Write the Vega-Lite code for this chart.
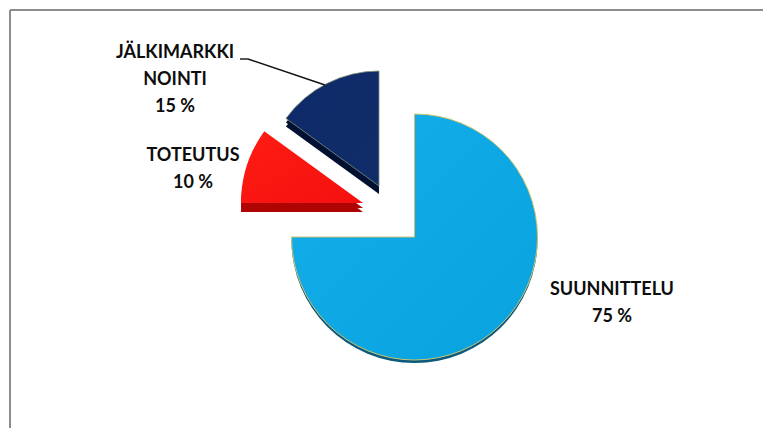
{
  "$schema": "https://vega.github.io/schema/vega-lite/v6.json",
  "width": 753,
  "height": 418,
  "autosize": "none",
  "padding": {"left": 10, "top": 10, "right": 0, "bottom": 0},
  "background": "white",
  "config": {"view": {"stroke": null}},
  "data": {
    "values": [
      {"vaihe": "SUUNNITTELU", "rivit": "SUUNNITTELU\n75 %", "osuus": 75},
      {"vaihe": "TOTEUTUS", "rivit": "TOTEUTUS\n10 %", "osuus": 10},
      {"vaihe": "JÄLKIMARKKINOINTI", "rivit": "JÄLKIMARKKI\nNOINTI\n15 %", "osuus": 15}
    ]
  },
  "transform": [{"stack": "osuus", "groupby": [], "as": ["alku", "loppu"]}],
  "encoding": {
    "theta": {"field": "alku", "type": "quantitative", "scale": {"domain": [0, 100]}},
    "theta2": {"field": "loppu"}
  },
  "layer": [
    {
      "transform": [{"filter": "datum.vaihe === 'SUUNNITTELU'"}],
      "mark": {"type": "arc", "outerRadius": 123, "fill": "#0b5a7c", "xOffset": 28, "yOffset": 21}
    },
    {
      "transform": [{"filter": "datum.vaihe === 'TOTEUTUS'"}],
      "mark": {"type": "arc", "outerRadius": 122, "fill": "#b00404", "xOffset": -23.5, "yOffset": -7}
    },
    {
      "transform": [{"filter": "datum.vaihe === 'TOTEUTUS'"}],
      "mark": {"type": "arc", "outerRadius": 122, "fill": "#b00404", "xOffset": -23.5, "yOffset": -11}
    },
    {
      "transform": [{"filter": "datum.vaihe === 'JÄLKIMARKKINOINTI'"}],
      "mark": {"type": "arc", "outerRadius": 115, "fill": "#021032", "xOffset": -7.5, "yOffset": -25}
    },
    {
      "transform": [{"filter": "datum.vaihe === 'JÄLKIMARKKINOINTI'"}],
      "mark": {"type": "arc", "outerRadius": 115, "fill": "#021032", "xOffset": -7.5, "yOffset": -29}
    },
    {
      "transform": [{"filter": "datum.vaihe === 'SUUNNITTELU'"}],
      "mark": {
        "type": "arc",
        "outerRadius": 123,
        "xOffset": 28,
        "yOffset": 18,
        "stroke": "#cdc56e",
        "strokeWidth": 1,
        "fill": {
          "gradient": "linear",
          "x1": 0, "y1": 0, "x2": 1, "y2": 1,
          "stops": [{"offset": 0, "color": "#14aeea"}, {"offset": 1, "color": "#08a3df"}]
        }
      }
    },
    {
      "transform": [{"filter": "datum.vaihe === 'TOTEUTUS'"}],
      "mark": {
        "type": "arc",
        "outerRadius": 122,
        "xOffset": -23.5,
        "yOffset": -16,
        "fill": {
          "gradient": "linear",
          "x1": 0, "y1": 0, "x2": 1, "y2": 1,
          "stops": [{"offset": 0, "color": "#ff1c12"}, {"offset": 1, "color": "#f41010"}]
        }
      }
    },
    {
      "transform": [{"filter": "datum.vaihe === 'JÄLKIMARKKINOINTI'"}],
      "mark": {
        "type": "arc",
        "outerRadius": 115,
        "xOffset": -7.5,
        "yOffset": -33,
        "stroke": "#7f8f78",
        "strokeWidth": 0.8,
        "fill": {
          "gradient": "linear",
          "x1": 0, "y1": 0, "x2": 1, "y2": 1,
          "stops": [{"offset": 0, "color": "#0e2a68"}, {"offset": 1, "color": "#102d6a"}]
        }
      }
    },
    {
      "transform": [{"filter": "datum.vaihe === 'SUUNNITTELU'"}],
      "mark": {"type": "text", "font": "Lato", "fontWeight": "bold", "fontSize": 18, "lineHeight": 27, "lineBreak": "\n", "color": "#0d0d0d", "align": "center", "baseline": "middle", "xOffset": 225.5, "yOffset": 71},
      "encoding": {"theta": null, "theta2": null, "text": {"field": "rivit"}}
    },
    {
      "transform": [{"filter": "datum.vaihe === 'TOTEUTUS'"}],
      "mark": {"type": "text", "font": "Lato", "fontWeight": "bold", "fontSize": 18, "lineHeight": 27, "lineBreak": "\n", "color": "#0d0d0d", "align": "center", "baseline": "middle", "xOffset": -193.5, "yOffset": -63},
      "encoding": {"theta": null, "theta2": null, "text": {"field": "rivit"}}
    },
    {
      "transform": [{"filter": "datum.vaihe === 'JÄLKIMARKKINOINTI'"}],
      "mark": {"type": "text", "font": "Lato", "fontWeight": "bold", "fontSize": 18, "lineHeight": 27, "lineBreak": "\n", "color": "#0d0d0d", "align": "center", "baseline": "middle", "xOffset": -211.5, "yOffset": -166},
      "encoding": {"theta": null, "theta2": null, "text": {"field": "rivit"}}
    },
    {
      "data": {"values": [{"osa": "viite"}]},
      "mark": {"type": "rule", "color": "#111111", "strokeWidth": 1.4},
      "encoding": {"theta": null, "theta2": null, "x": {"value": 230}, "x2": {"value": 238}, "y": {"value": 49}, "y2": {"value": 49}}
    },
    {
      "data": {"values": [{"osa": "viite"}]},
      "mark": {"type": "rule", "color": "#111111", "strokeWidth": 1.4},
      "encoding": {"theta": null, "theta2": null, "x": {"value": 238}, "x2": {"value": 315}, "y": {"value": 49}, "y2": {"value": 75}}
    },
    {
      "data": {"values": [{"osa": "kehys"}]},
      "mark": {"type": "rule", "color": "#8c8c8c", "strokeWidth": 2},
      "encoding": {"theta": null, "theta2": null, "x": {"value": 0}}
    },
    {
      "data": {"values": [{"osa": "kehys"}]},
      "mark": {"type": "rule", "color": "#8c8c8c", "strokeWidth": 2},
      "encoding": {"theta": null, "theta2": null, "y": {"value": 0}}
    }
  ]
}
